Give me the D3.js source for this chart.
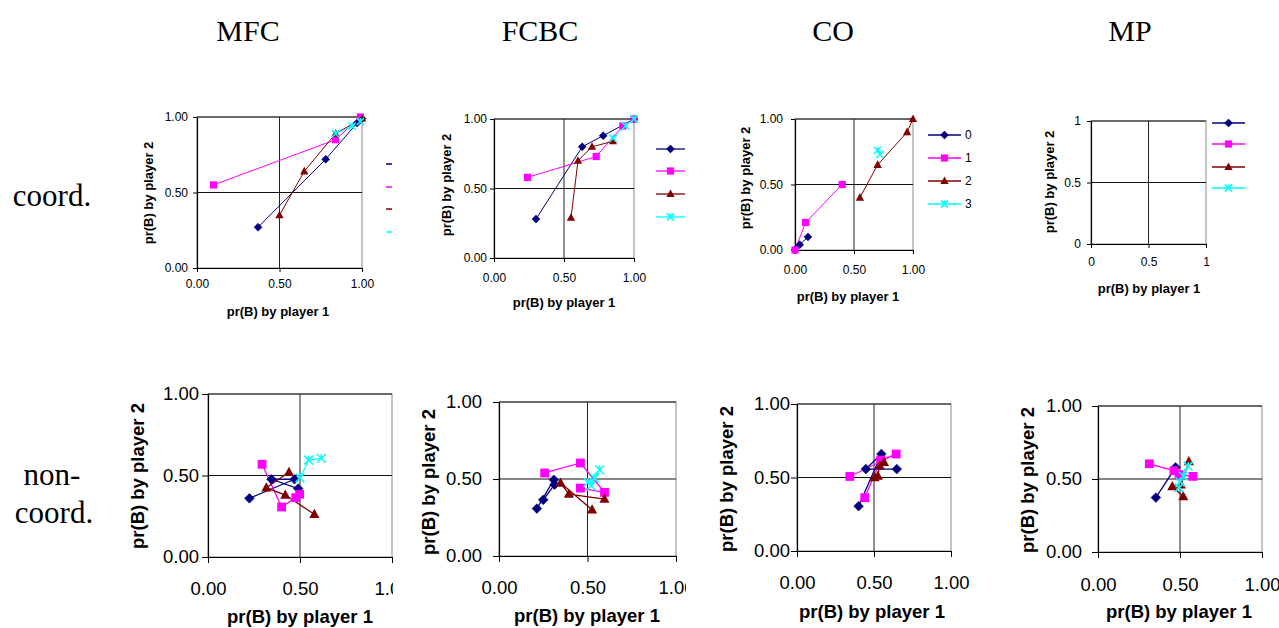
<!DOCTYPE html>
<html><head><meta charset="utf-8">
<script src="https://cdn.jsdelivr.net/npm/d3@7"></script>
<style>body{margin:0;background:#fff}svg{display:block}</style>
</head><body>
<svg id="c" width="1279" height="628"></svg>
<script>
// ---------- data ----------
const categories = ["MFC", "FCBC", "CO", "MP"];
const rowLabels = [["coord."], ["non-", "coord."]];
const seriesLabels = ["0", "1", "2", "3"];
const tickValues = [0, 0.5, 1];
const tickLabels2 = ["0.00", "0.50", "1.00"];
const tickLabelsShort = ["0", "0.5", "1"];
const xTitle = "pr(B) by player 1";
const yTitle = "pr(B) by player 2";

// coordination games: each list = one series (0..3) of [pr(B) p1, pr(B) p2]
const mfcCoord = [
  [[0.37, 0.27], [0.78, 0.72], [0.97, 0.96], [1.0, 0.99]],
  [[0.10, 0.55], [0.84, 0.85], [0.99, 1.0]],
  [[0.50, 0.35], [0.65, 0.64], [0.84, 0.89], [1.0, 0.99]],
  [[0.84, 0.89], [0.94, 0.94], [0.99, 0.97]]
];
const fcbcCoord = [
  [[0.30, 0.28], [0.63, 0.80], [0.78, 0.88], [1.0, 1.0]],
  [[0.24, 0.58], [0.73, 0.73], [0.92, 0.95], [1.0, 1.0]],
  [[0.55, 0.29], [0.60, 0.70], [0.70, 0.80], [0.85, 0.84]],
  [[0.85, 0.86], [0.94, 0.95], [1.0, 1.0]]
];
const coCoord = [
  [[0.0, 0.0], [0.04, 0.04], [0.11, 0.10]],
  [[0.0, 0.0], [0.09, 0.21], [0.40, 0.50]],
  [[0.55, 0.40], [0.70, 0.65], [0.95, 0.90], [1.0, 1.0]],
  [[0.70, 0.76], [0.72, 0.73]]
];
const mpCoord = [[], [], [], []];

// non-coordination games
const mfcNon = [
  [[0.225, 0.36], [0.47, 0.477], [0.345, 0.477], [0.49, 0.42]],
  [[0.294, 0.569], [0.40, 0.307], [0.477, 0.364], [0.498, 0.385]],
  [[0.44, 0.52], [0.317, 0.425], [0.42, 0.38], [0.578, 0.262]],
  [[0.50, 0.485], [0.547, 0.595], [0.616, 0.605]]
];
const fcbcNon = [
  [[0.214, 0.308], [0.31, 0.495], [0.314, 0.463], [0.25, 0.365]],
  [[0.258, 0.539], [0.46, 0.604], [0.596, 0.413], [0.46, 0.441]],
  [[0.526, 0.30], [0.348, 0.474], [0.395, 0.402], [0.596, 0.37]],
  [[0.502, 0.478], [0.52, 0.456], [0.54, 0.505], [0.568, 0.56]]
];
const coNon = [
  [[0.40, 0.305], [0.548, 0.66], [0.447, 0.557], [0.648, 0.557]],
  [[0.343, 0.507], [0.644, 0.66], [0.543, 0.618], [0.44, 0.363]],
  [[0.504, 0.50], [0.525, 0.51], [0.537, 0.58], [0.565, 0.603]],
  []
];
const mpNon = [
  [[0.353, 0.373], [0.473, 0.58], [0.50, 0.52]],
  [[0.313, 0.604], [0.463, 0.557], [0.494, 0.53], [0.579, 0.518]],
  [[0.554, 0.62], [0.505, 0.46], [0.453, 0.449], [0.52, 0.38]],
  [[0.55, 0.587], [0.52, 0.52], [0.494, 0.44], [0.50, 0.48]]
];

// ---------- styles ----------
const seriesColors = ["#000080", "#FF00FF", "#800000", "#00FFFF"];
const seriesMarkers = ["diamond", "square", "triangle", "x"];
const SANS = "'Liberation Sans', Arial, sans-serif";
const SERIF = "'Liberation Serif', 'Times New Roman', serif";

const panels = [
  {data: mfcCoord, x0: 197, x1: 362, yTop: 117, yBot: 268, fs: 12, tfs: 13, ts: 4, lw: 1, ms: 3.6,
   labels: tickLabels2, xLabC: 284, yLabR: 188, yT: [148, 193], xT: [278, 311],
   legend: {type: "dash", x0: 386, x1: 392, ys: [164, 187, 209, 232]}},
  {data: fcbcCoord, x0: 494, x1: 634, yTop: 119, yBot: 258, fs: 12, tfs: 13, ts: 4, lw: 1, ms: 3.6,
   labels: tickLabels2, xLabC: 278, yLabR: 487, yT: [446, 185], xT: [564, 302],
   legend: {type: "full", x0: 656, x1: 685, ys: [149, 171, 194, 217]}},
  {data: coCoord, x0: 795, x1: 913, yTop: 119, yBot: 250, fs: 12, tfs: 13, ts: 4, lw: 1, ms: 3.6,
   labels: tickLabels2, xLabC: 270, yLabR: 783, yT: [745, 178], xT: [848, 296],
   legend: {type: "full", x0: 928, x1: 961, ys: [135, 158, 181, 204], text: 965}},
  {data: mpCoord, x0: 1091, x1: 1206, yTop: 121, yBot: 244, fs: 12, tfs: 13, ts: 4, lw: 1, ms: 3.6,
   labels: tickLabelsShort, xLabC: 262, yLabR: 1081, yT: [1049, 182], xT: [1149, 288],
   legend: {type: "full", x0: 1212, x1: 1245, ys: [123, 144, 167, 188]}},
  {data: mfcNon, x0: 208, x1: 392, yTop: 394, yBot: 557, fs: 18.5, tfs: 18.5, ts: 6, lw: 1.3, ms: 4.4,
   labels: tickLabels2, xLabC: 588, yLabR: 199, yT: [137, 476], xT: [300, 616], clip: 393},
  {data: fcbcNon, x0: 499, x1: 676, yTop: 402, yBot: 556, fs: 18.5, tfs: 18.5, ts: 6, lw: 1.3, ms: 4.4,
   labels: tickLabels2, xLabC: 587, yLabR: 482, yT: [428, 482], xT: [587, 615], clip: 686},
  {data: coNon, x0: 797, x1: 951, yTop: 404, yBot: 551, fs: 18.5, tfs: 18.5, ts: 6, lw: 1.3, ms: 4.4,
   labels: tickLabels2, xLabC: 582, yLabR: 790, yT: [726, 479], xT: [872, 611]},
  {data: mpNon, x0: 1098, x1: 1262, yTop: 406, yBot: 552, fs: 18.5, tfs: 18.5, ts: 6, lw: 1.3, ms: 4.4,
   labels: tickLabels2, xLabC: 584, yLabR: 1082, yT: [1027, 480], xT: [1179, 611]}
];

const titleX = [248, 540, 833, 1130];

// ---------- drawing ----------
const svg = d3.select("#c");
const defs = svg.append("defs");

function marker(g, type, cx, cy, s, color) {
  if (type === "diamond") {
    g.append("path").attr("d", `M${cx},${cy - s * 1.1}L${cx + s * 1.1},${cy}L${cx},${cy + s * 1.1}L${cx - s * 1.1},${cy}Z`)
      .attr("fill", color).attr("stroke", color).attr("stroke-width", 0.6);
  } else if (type === "square") {
    g.append("rect").attr("x", cx - s).attr("y", cy - s).attr("width", 2 * s).attr("height", 2 * s)
      .attr("fill", color);
  } else if (type === "triangle") {
    g.append("path").attr("d", `M${cx},${cy - s * 1.25}L${cx + s * 1.15},${cy + s * 0.85}L${cx - s * 1.15},${cy + s * 0.85}Z`)
      .attr("fill", color);
  } else {
    g.append("path").attr("d", `M${cx - s},${cy - s}L${cx + s},${cy + s}M${cx - s},${cy + s}L${cx + s},${cy - s}M${cx},${cy - s}L${cx},${cy + s * 0.2}`)
      .attr("stroke", color).attr("stroke-width", 1.5).attr("fill", "none");
  }
}

panels.forEach((p, pi) => {
  const g = svg.append("g");
  if (p.clip) {
    const id = "clip" + pi;
    defs.append("clipPath").attr("id", id).append("rect")
      .attr("x", 0).attr("y", 0).attr("width", p.clip).attr("height", 628);
    g.attr("clip-path", `url(#${id})`);
  }
  const x = d3.scaleLinear().domain([0, 1]).range([p.x0, p.x1]);
  const y = d3.scaleLinear().domain([0, 1]).range([p.yBot, p.yTop]);

  g.append("rect").attr("x", p.x0).attr("y", p.yTop).attr("width", p.x1 - p.x0).attr("height", p.yBot - p.yTop)
    .attr("fill", "none").attr("stroke", "#8a8a8a").attr("stroke-width", 1);
  [0.5, 1].forEach(v => {
    g.append("line").attr("x1", p.x0).attr("x2", p.x1).attr("y1", y(v)).attr("y2", y(v))
      .attr("stroke", "#111").attr("stroke-width", 1);
  });
  g.append("line").attr("x1", x(0.5)).attr("x2", x(0.5)).attr("y1", p.yTop).attr("y2", p.yBot)
    .attr("stroke", "#222").attr("stroke-width", 1);

  const padX = p.xLabC - p.yBot - p.ts - 0.35 * p.fs;
  const xAxis = d3.axisBottom(x).tickValues(tickValues).tickFormat((d, i) => p.labels[i])
    .tickSizeInner(p.ts).tickSizeOuter(0).tickPadding(padX);
  const gx = g.append("g").attr("transform", `translate(0,${p.yBot})`).call(xAxis);
  const padY = p.x0 - p.yLabR - p.ts;
  const yAxis = d3.axisLeft(y).tickValues(tickValues).tickFormat((d, i) => p.labels[i])
    .tickSizeInner(p.ts).tickSizeOuter(0).tickPadding(padY);
  const gy = g.append("g").attr("transform", `translate(${p.x0},0)`).call(yAxis);
  [gx, gy].forEach(a => {
    a.selectAll("path.domain").attr("stroke", "#000").attr("stroke-width", 1.2);
    a.selectAll(".tick line").attr("stroke", "#000");
    a.selectAll("text").attr("font-family", SANS).attr("font-size", p.fs).attr("fill", "#000");
  });

  g.append("text").attr("x", p.xT[0]).attr("y", p.xT[1] + 0.36 * p.tfs).attr("text-anchor", "middle")
    .attr("font-family", SANS).attr("font-weight", "bold").attr("font-size", p.tfs).text(xTitle);
  g.append("text").attr("transform", `translate(${p.yT[0] + 0.36 * p.tfs},${p.yT[1]}) rotate(-90)`)
    .attr("text-anchor", "middle")
    .attr("font-family", SANS).attr("font-weight", "bold").attr("font-size", p.tfs).text(yTitle);

  const line = d3.line().x(d => x(d[0])).y(d => y(d[1]));
  p.data.forEach((s, si) => {
    if (!s.length) return;
    g.append("path").attr("d", line(s)).attr("fill", "none")
      .attr("stroke", seriesColors[si]).attr("stroke-width", p.lw);
  });
  p.data.forEach((s, si) => {
    s.forEach(d => marker(g, seriesMarkers[si], x(d[0]), y(d[1]), p.ms, seriesColors[si]));
  });

  if (p.legend) {
    const L = p.legend;
    seriesLabels.forEach((lab, si) => {
      const yy = L.ys[si];
      g.append("line").attr("x1", L.x0).attr("x2", L.x1).attr("y1", yy).attr("y2", yy)
        .attr("stroke", seriesColors[si]).attr("stroke-width", L.type === "dash" ? 1.5 : 1.3);
      if (L.type === "full") {
        marker(g, seriesMarkers[si], (L.x0 + L.x1) / 2, yy, p.ms, seriesColors[si]);
      }
      if (L.text) {
        g.append("text").attr("x", L.text).attr("y", yy + 4.3).attr("font-family", SANS)
          .attr("font-size", 12).text(lab);
      }
    });
  }
});

categories.forEach((c, i) => {
  svg.append("text").attr("x", titleX[i]).attr("y", 41).attr("text-anchor", "middle")
    .attr("font-family", SERIF).attr("font-size", 30).text(c);
});
svg.append("text").attr("x", 52).attr("y", 206).attr("text-anchor", "middle")
  .attr("font-family", SERIF).attr("font-size", 31).text(rowLabels[0][0]);
svg.append("text").attr("x", 52).attr("y", 485).attr("text-anchor", "middle")
  .attr("font-family", SERIF).attr("font-size", 31).text(rowLabels[1][0]);
svg.append("text").attr("x", 54).attr("y", 523).attr("text-anchor", "middle")
  .attr("font-family", SERIF).attr("font-size", 31).text(rowLabels[1][1]);
</script>
</body></html>
